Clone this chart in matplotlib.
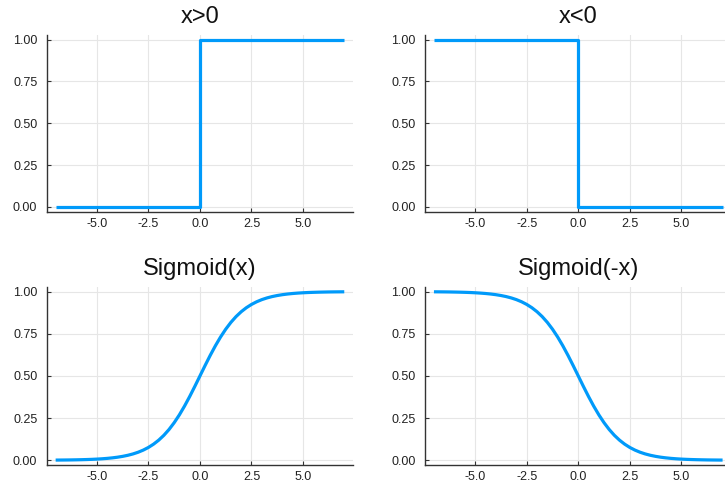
import matplotlib
matplotlib.use("Agg")
import matplotlib.pyplot as plt

# step data
step_x = [-7.0, 0.0, 0.0, 7.0]
step_pos = [0.0, 0.0, 1.0, 1.0]
step_neg = [1.0, 1.0, 0.0, 0.0]

# sigmoid curve
sig_x = [-7.0, -6.75, -6.5, -6.25, -6.0, -5.75, -5.5, -5.25, -5.0, -4.75, -4.5, -4.25,
         -4.0, -3.75, -3.5, -3.25, -3.0, -2.75, -2.5, -2.25, -2.0, -1.75, -1.5, -1.25,
         -1.0, -0.75, -0.5, -0.25, 0.0, 0.25, 0.5, 0.75, 1.0, 1.25, 1.5, 1.75, 2.0, 2.25,
         2.5, 2.75, 3.0, 3.25, 3.5, 3.75, 4.0, 4.25, 4.5, 4.75, 5.0, 5.25, 5.5, 5.75,
         6.0, 6.25, 6.5, 6.75, 7.0]
sig_pos = [0.0009, 0.0012, 0.0015, 0.0019, 0.0025, 0.0032, 0.0041, 0.0052, 0.0067, 0.0086,
           0.0110, 0.0141, 0.0180, 0.0230, 0.0293, 0.0373, 0.0474, 0.0601, 0.0759, 0.0954,
           0.1192, 0.1480, 0.1824, 0.2227, 0.2689, 0.3208, 0.3775, 0.4378, 0.5000, 0.5622,
           0.6225, 0.6792, 0.7311, 0.7773, 0.8176, 0.8520, 0.8808, 0.9046, 0.9241, 0.9399,
           0.9526, 0.9627, 0.9707, 0.9770, 0.9820, 0.9859, 0.9890, 0.9914, 0.9933, 0.9948,
           0.9959, 0.9968, 0.9975, 0.9981, 0.9985, 0.9988, 0.9991]
sig_neg = sig_pos[::-1]

titles = ["x>0", "x<0", "Sigmoid(x)", "Sigmoid(-x)"]
xticks = [-5.0, -2.5, 0.0, 2.5, 5.0]
yticks = [0.0, 0.25, 0.5, 0.75, 1.0]

plt.rcParams['font.family'] = ['Liberation Sans', 'DejaVu Sans']

fig = plt.figure(figsize=(7.25, 4.93), dpi=100)
boxes = [
    [0.0648, 0.570, 0.422, 0.360],
    [0.5866, 0.570, 0.422, 0.360],
    [0.0648, 0.0562, 0.422, 0.3625],
    [0.5866, 0.0562, 0.422, 0.3625],
]
series = [(step_x, step_pos), (step_x, step_neg), (sig_x, sig_pos), (sig_x, sig_neg)]

for box, title, (xs, ys) in zip(boxes, titles, series):
    ax = fig.add_axes(box)
    ax.plot(xs, ys, color='#009AFA', lw=2.3, solid_capstyle='butt')
    ax.set_xlim(-7.42, 7.42)
    ax.set_ylim(-0.03, 1.03)
    ax.set_xticks(xticks)
    ax.set_xticklabels([f"{t:.1f}" for t in xticks])
    ax.set_yticks(yticks)
    ax.set_yticklabels([f"{t:.2f}" for t in yticks])
    ax.grid(True, color='#e6e6e6', lw=0.8)
    ax.set_axisbelow(True)
    for s in ['top', 'right']:
        ax.spines[s].set_visible(False)
    for s in ['left', 'bottom']:
        ax.spines[s].set_color('#333333')
        ax.spines[s].set_linewidth(1.0)
    ax.tick_params(direction='in', length=3, width=0.8, color='#333333',
                   labelsize=9, labelcolor='#222222')
    ax.tick_params(axis='x', pad=4)
    ax.tick_params(axis='y', pad=7)
    ax.set_title(title, fontsize=17, pad=8, color='#111111')

fig.savefig("out.png", dpi=100)
